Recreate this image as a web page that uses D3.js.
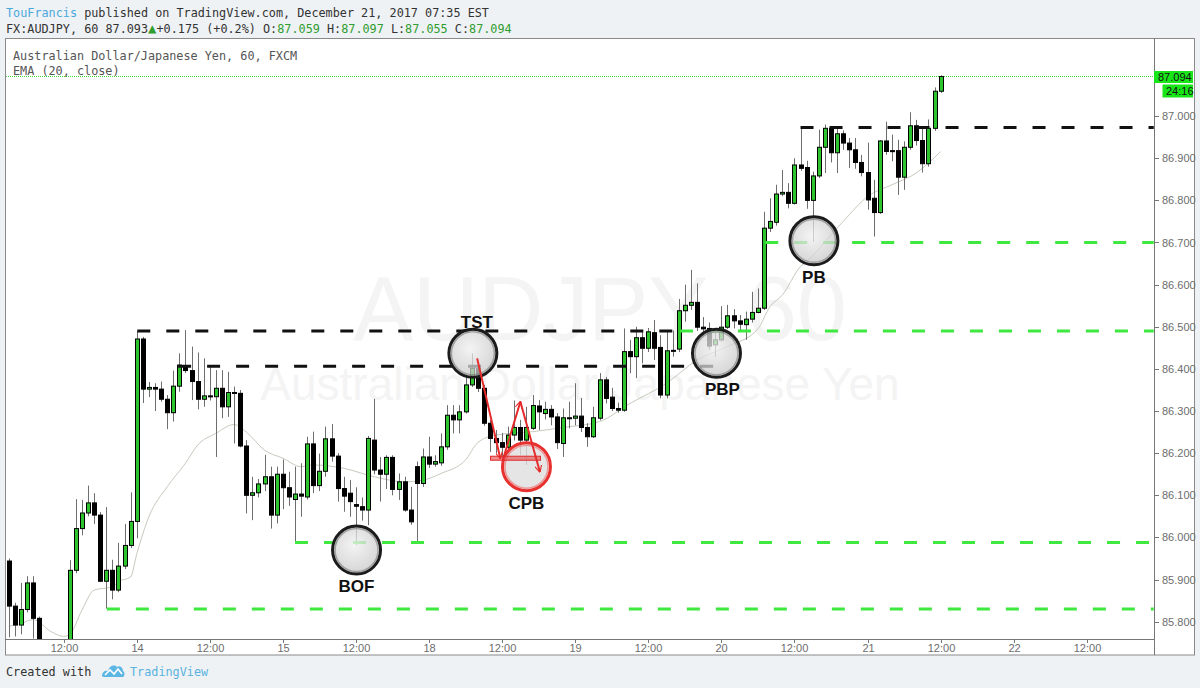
<!DOCTYPE html>
<html><head><meta charset="utf-8">
<script src="https://cdn.jsdelivr.net/npm/d3@7"></script>
<style>
html,body{margin:0;padding:0;background:#eff2f5;}
svg{display:block;}
</style></head><body>
<svg id="c" width="1200" height="688"></svg>
<script>
// ---------- DATA ----------
const opens=[85.944,85.837,85.792,85.829,85.892,85.808,85.740,85.705,85.725,85.695,
85.745,85.922,86.021,86.058,86.082,86.053,85.896,85.922,85.875,85.932,
85.981,86.038,86.471,86.352,86.356,86.352,86.328,86.296,86.359,86.405,
86.396,86.370,86.328,86.336,86.334,86.354,86.310,86.344,86.342,86.217,
86.100,86.106,86.127,86.144,86.053,86.150,86.118,86.090,86.103,86.096,
86.222,86.123,86.157,86.234,86.193,86.116,86.105,86.078,86.073,86.065,
86.231,86.160,86.150,86.190,86.114,86.132,86.065,86.168,86.128,86.191,
86.174,86.177,86.215,86.290,86.279,86.298,86.362,86.401,86.354,86.271,
86.235,86.225,86.214,86.243,86.261,86.231,86.259,86.312,86.294,86.304,
86.286,86.223,86.284,86.283,86.288,86.261,86.239,86.283,86.374,86.333,
86.306,86.302,86.441,86.429,86.474,86.449,86.486,86.451,86.338,86.443,
86.447,86.538,86.551,86.558,86.499,86.496,86.457,86.469,86.499,86.526,
86.514,86.505,86.518,86.534,86.544,86.734,86.748,86.815,86.819,86.793,
86.884,86.878,86.800,86.858,86.926,86.971,86.913,86.958,86.936,86.920,
86.890,86.866,86.805,86.771,86.941,86.918,86.918,86.855,86.926,86.977,
86.942,86.887,86.971,87.059];
const highs=[85.950,85.845,85.892,85.908,85.908,85.812,85.752,85.745,85.748,85.755,
85.946,86.091,86.089,86.123,86.105,86.060,86.072,85.947,85.987,86.032,
86.107,86.490,86.476,86.369,86.366,86.370,86.338,86.396,86.437,86.492,
86.453,86.439,86.425,86.409,86.397,86.397,86.393,86.358,86.350,86.231,
86.144,86.139,86.196,86.168,86.168,86.185,86.156,86.168,86.176,86.239,
86.251,86.199,86.263,86.269,86.200,86.144,86.136,86.119,86.095,86.241,
86.329,86.191,86.195,86.195,86.152,86.144,86.120,86.180,86.211,86.239,
86.195,86.247,86.314,86.314,86.314,86.386,86.437,86.410,86.362,86.279,
86.255,86.248,86.263,86.325,86.279,86.310,86.338,86.326,86.322,86.314,
86.295,86.306,86.322,86.366,86.331,86.271,86.310,86.390,86.381,86.355,
86.320,86.496,86.469,86.500,86.488,86.497,86.516,86.480,86.490,86.491,
86.566,86.600,86.635,86.603,86.523,86.510,86.490,86.549,86.552,86.542,
86.528,86.536,86.583,86.591,86.773,86.805,86.837,86.872,86.841,86.900,
86.973,86.894,86.868,86.968,86.980,86.975,86.971,86.966,86.948,86.948,
86.908,86.937,86.849,86.943,86.987,86.956,86.944,86.940,87.009,86.991,
86.975,86.992,87.068,87.097];
const lows=[85.763,85.765,85.770,85.822,85.760,85.720,85.690,85.680,85.670,85.675,
85.735,85.915,86.005,86.050,86.032,85.894,85.831,85.853,85.870,85.925,
85.975,85.998,86.319,86.333,86.300,86.322,86.257,86.275,86.346,86.390,
86.326,86.304,86.310,86.325,86.191,86.283,86.286,86.223,86.214,86.057,
86.041,86.095,86.110,86.021,86.033,86.067,86.075,85.987,86.049,86.090,
86.105,86.110,86.144,86.180,86.085,86.061,86.049,85.982,86.040,86.029,
86.150,86.085,86.115,86.100,86.089,86.061,86.030,85.989,86.120,86.165,
86.168,86.170,86.208,86.247,86.247,86.294,86.357,86.345,86.265,86.203,
86.200,86.185,86.195,86.230,86.195,86.172,86.255,86.255,86.280,86.266,
86.210,86.191,86.259,86.266,86.250,86.215,86.236,86.278,86.318,86.300,
86.296,86.298,86.390,86.378,86.413,86.440,86.421,86.330,86.330,86.429,
86.440,86.512,86.540,86.490,86.480,86.445,86.429,86.465,86.495,86.496,
86.490,86.469,86.510,86.532,86.540,86.725,86.740,86.810,86.781,86.790,
86.870,86.780,86.702,86.853,86.865,86.890,86.865,86.920,86.877,86.875,
86.857,86.778,86.714,86.768,86.908,86.893,86.813,86.825,86.920,86.930,
86.866,86.880,86.965,87.055];
const closes=[85.837,85.792,85.829,85.892,85.808,85.740,85.705,85.725,85.695,85.745,
85.922,86.021,86.058,86.082,86.053,85.896,85.922,85.875,85.932,85.981,
86.038,86.471,86.352,86.356,86.352,86.328,86.296,86.359,86.409,86.396,
86.370,86.328,86.336,86.334,86.354,86.310,86.344,86.342,86.217,86.100,
86.106,86.127,86.144,86.053,86.150,86.118,86.096,86.103,86.098,86.222,
86.123,86.157,86.234,86.193,86.116,86.098,86.085,86.074,86.065,86.235,
86.160,86.150,86.190,86.114,86.132,86.065,86.037,86.128,86.191,86.174,
86.180,86.215,86.290,86.279,86.298,86.362,86.401,86.354,86.271,86.235,
86.225,86.214,86.243,86.261,86.231,86.261,86.313,86.298,86.304,86.286,
86.225,86.284,86.282,86.288,86.261,86.239,86.284,86.374,86.330,86.306,
86.302,86.441,86.429,86.474,86.449,86.488,86.449,86.338,86.443,86.444,
86.538,86.551,86.558,86.499,86.495,86.454,86.469,86.499,86.526,86.514,
86.506,86.518,86.534,86.544,86.734,86.750,86.815,86.819,86.793,86.884,
86.876,86.800,86.858,86.926,86.971,86.913,86.958,86.936,86.920,86.890,
86.866,86.801,86.771,86.941,86.916,86.916,86.855,86.926,86.977,86.942,
86.887,86.971,87.059,87.094];

// EMA(20, close) read at selected bars
const emaIdx=[0,2,4,7,9,10,12,14,17,18,20,21,23,26,29,31,34,37,39,42,45,48,50,55,60,65,68,71,75,77,80,86,91,97,102,108,113,118,123,125,127,130,131,137,141,145,149,151,153];
const emaVal=[85.789,85.796,85.805,85.776,85.765,85.770,85.827,85.875,85.883,85.895,85.906,85.960,86.049,86.120,86.176,86.219,86.247,86.268,86.250,86.207,86.188,86.168,86.172,86.164,86.144,86.132,86.136,86.152,86.184,86.225,86.243,86.251,86.261,86.275,86.318,86.366,86.421,86.453,86.495,86.548,86.575,86.643,86.655,86.750,86.809,86.837,86.865,86.888,86.916];

const priceTicks=[85.8,85.9,86.0,86.1,86.2,86.3,86.4,86.5,86.6,86.7,86.8,86.9,87.0];
const timeTickIdx=[9,21,33,45,57,69,81,93,105,117,129,141,153,165,177];
const timeTickLabels=["12:00","14","12:00","15","12:00","18","12:00","19","12:00","20","12:00","21","12:00","22","12:00"];

// horizontal levels drawn on the chart
const levelPrice=[86.490,86.406,86.973,85.830,85.988,86.490,86.700];
const levelStart=[21.1,27.8,130,16.1,47,110.2,124.2];
const levelEnd=[109.7,116.4,188,188,188,188,188];
const levelKind=["black","black","black","green","green","green","green"];

// circled setups
const markerLabels=["TST","BOF","CPB","PBP","PB"];
const markerIdx=[76.2,57.1,85.0,116.2,132.2];
const markerPrice=[86.437,85.970,86.168,86.437,86.704];
const markerLabelPos=["above","below","below","below","below"];

// red arrows (index, price) pairs
const arrowFromIdx=[76.9,81.1,84.0];
const arrowFromPrice=[86.425,86.183,86.322];
const arrowToIdx=[80.7,84.0,87.2];
const arrowToPrice=[86.188,86.322,86.156];
const barFromIdx=79.1, barToIdx=87.3, barPrice=86.188;

const lastPrice=87.094;

// ---------- DRAW ----------
const svg=d3.select("#c");
const X0=6, X1=1154, Y0=38, Y1=639;
const x=d3.scaleLinear().domain([0,153]).range([8.8,940.6]);
const y=d3.scaleLinear().domain([85.8,87.0]).range([621.7,116.1]);
const mono="'DejaVu Sans Mono', monospace";
const sans="'Liberation Sans', Arial, sans-serif";

const defs=svg.append("defs");
defs.append("clipPath").attr("id","plot").append("rect")
  .attr("x",X0).attr("y",Y0).attr("width",X1-X0).attr("height",Y1-Y0);
const rg=defs.append("radialGradient").attr("id","cg").attr("cx","45%").attr("cy","40%").attr("r","60%");
rg.append("stop").attr("offset","0%").attr("stop-color","#f0f0f0");
rg.append("stop").attr("offset","100%").attr("stop-color","#c6c6c6");
const mk=defs.append("marker").attr("id","ah").attr("viewBox","0 0 10 10")
  .attr("refX",9).attr("refY",5).attr("markerWidth",7).attr("markerHeight",7)
  .attr("orient","auto-start-reverse").attr("markerUnits","userSpaceOnUse");
mk.append("path").attr("d","M0,0 L10,5 L0,10").attr("fill","none").attr("stroke","#e52b2b").attr("stroke-width",1.6);

// header
const h1=svg.append("text").attr("x",6).attr("y",17).attr("font-family",mono).attr("font-size",11.8).attr("fill","#333");
h1.append("tspan").attr("fill","#4aa8dc").text("TouFrancis");
h1.append("tspan").text(" published on TradingView.com, December 21, 2017 07:35 EST");
const G="#2f9d2f";
const h2=svg.append("text").attr("x",6).attr("y",33).attr("font-family",mono).attr("font-size",11.8).attr("fill","#333");
[["FX:AUDJPY, 60 87.093","#333",11.8],["▲",G,14],["+0.175 (+0.2%) O:","#333",11.8],["87.059",G,11.8],[" H:","#333",11.8],["87.097",G,11.8],[" L:","#333",11.8],["87.055",G,11.8],[" C:","#333",11.8],["87.094",G,11.8]]
  .forEach(([t,c,s])=>h2.append("tspan").attr("fill",c).attr("font-size",s).text(t));

// panel
svg.append("rect").attr("x",5.5).attr("y",38.5).attr("width",1189).attr("height",616.5)
  .attr("fill","#fff").attr("stroke","#8a8a8a");

const plot=svg.append("g").attr("clip-path","url(#plot)");

// watermark
plot.append("text").attr("x",600).attr("y",340).attr("text-anchor","middle")
  .attr("font-family",sans).attr("font-size",90).attr("fill","#f4f4f4").text("AUDJPY, 60");
plot.append("text").attr("x",580).attr("y",400).attr("text-anchor","middle")
  .attr("font-family",sans).attr("font-size",46).attr("fill","#f4f4f4").text("Australian Dollar/Japanese Yen");

// chart titles
svg.append("text").attr("x",13).attr("y",60).attr("font-family",mono).attr("font-size",11.8).attr("fill","#555").text("Australian Dollar/Japanese Yen, 60, FXCM");
svg.append("text").attr("x",13).attr("y",75).attr("font-family",mono).attr("font-size",11.8).attr("fill","#555").text("EMA (20, close)");

// last price dotted line
plot.append("line").attr("x1",X0).attr("x2",X1).attr("y1",y(lastPrice)).attr("y2",y(lastPrice))
  .attr("stroke","#3bd83b").attr("stroke-width",1).attr("stroke-dasharray","1,1");

// EMA
plot.append("path").datum(emaIdx.map((d,i)=>[d,emaVal[i]]))
  .attr("d",d3.line().x(d=>x(d[0])).y(d=>y(d[1])).curve(d3.curveMonotoneX))
  .attr("fill","none").attr("stroke","#c4cbbd").attr("stroke-width",1);

// candles
const idx=d3.range(opens.length);
const cg=plot.append("g");
cg.selectAll("line.w").data(idx).join("line").attr("class","w")
  .attr("x1",i=>Math.round(x(i))+0.5).attr("x2",i=>Math.round(x(i))+0.5)
  .attr("y1",i=>y(highs[i])).attr("y2",i=>y(lows[i]))
  .attr("stroke","#6e6e6e").attr("stroke-width",1);
cg.selectAll("rect.b").data(idx).join("rect").attr("class","b")
  .attr("x",i=>Math.round(x(i))-1.5).attr("width",4)
  .attr("y",i=>y(Math.max(opens[i],closes[i])))
  .attr("height",i=>Math.max(1,Math.abs(y(opens[i])-y(closes[i]))))
  .attr("fill",i=>closes[i]>=opens[i]?"#2ec42e":"#000")
  .attr("stroke","#000").attr("stroke-width",1);

// levels
const lg=plot.append("g");
levelPrice.forEach((p,i)=>{
  lg.append("line").attr("x1",x(levelStart[i])).attr("x2",x(levelEnd[i]))
    .attr("y1",y(p)).attr("y2",y(p))
    .attr("stroke",levelKind[i]==="black"?"#111":"#3ee83e")
    .attr("stroke-width",3).attr("stroke-dasharray","13,16");
});

// markers
const mg=plot.append("g");
markerLabels.forEach((lab,i)=>{
  const cx=x(markerIdx[i]), cy=y(markerPrice[i]);
  const red=lab==="CPB";
  mg.append("circle").attr("cx",cx).attr("cy",cy).attr("r",24)
    .attr("fill",red?"rgba(222,222,222,0.8)":"url(#cg)").attr("fill-opacity",red?1:0.75)
    .attr("stroke",red?"#e8312f":"#1c1c1c").attr("stroke-width",3);
  mg.append("circle").attr("cx",cx).attr("cy",cy).attr("r",21.5)
    .attr("fill","none").attr("stroke",red?"rgba(240,120,120,0.7)":"rgba(120,120,120,0.6)").attr("stroke-width",1.5);
  const above=markerLabelPos[i]==="above";
  const dx=lab==="TST"?4:(lab==="PBP"?6:0);
  mg.append("text").attr("x",cx+dx).attr("y",above?cy-25:cy+42)
    .attr("text-anchor","middle").attr("font-family",sans).attr("font-weight","bold")
    .attr("font-size",17).attr("fill","#111").text(lab);
});

// red bar + arrows
plot.append("rect").attr("x",x(barFromIdx)).attr("width",x(barToIdx)-x(barFromIdx))
  .attr("y",y(barPrice)-2).attr("height",4).attr("fill","rgba(232,80,80,0.65)")
  .attr("stroke","#e02a2a").attr("stroke-width",1);
arrowFromIdx.forEach((d,i)=>{
  plot.append("line").attr("x1",x(d)).attr("y1",y(arrowFromPrice[i]))
    .attr("x2",x(arrowToIdx[i])).attr("y2",y(arrowToPrice[i]))
    .attr("stroke","#e52b2b").attr("stroke-width",2).attr("marker-end","url(#ah)");
});

// axes frame lines
svg.append("line").attr("x1",X1+0.5).attr("x2",X1+0.5).attr("y1",Y0).attr("y2",655).attr("stroke","#777");
svg.append("line").attr("x1",5).attr("x2",X1+1).attr("y1",Y1+0.5).attr("y2",Y1+0.5).attr("stroke","#777");

// price axis
const pa=svg.append("g");
priceTicks.forEach(p=>{
  pa.append("line").attr("x1",X1).attr("x2",X1+5).attr("y1",Math.round(y(p))+0.5).attr("y2",Math.round(y(p))+0.5).attr("stroke","#777");
  pa.append("text").attr("x",X1+8).attr("y",y(p)+4).attr("font-family",sans).attr("font-size",11)
    .attr("fill","#6d6d6d").text(d3.format(".3f")(p));
});
// last price labels
pa.append("rect").attr("x",X1).attr("y",y(lastPrice)-5.5).attr("width",39).attr("height",12).attr("fill","#19e619");
pa.append("text").attr("x",X1+4).attr("y",y(lastPrice)+4.5).attr("font-family",sans).attr("font-size",11).attr("fill","#111").text(d3.format(".3f")(lastPrice));
pa.append("rect").attr("x",X1+8.5).attr("y",y(lastPrice)+8).attr("width",30.5).attr("height",13).attr("fill","#19e619");
pa.append("text").attr("x",X1+12).attr("y",y(lastPrice)+18.5).attr("font-family",sans).attr("font-size",11).attr("fill","#111").text("24:16");

// time axis
const ta=svg.append("g");
timeTickIdx.forEach((t,i)=>{
  const tx=Math.round(x(t))+0.5;
  ta.append("line").attr("x1",tx).attr("x2",tx).attr("y1",Y1).attr("y2",Y1+4).attr("stroke","#777");
  ta.append("text").attr("x",tx).attr("y",652).attr("text-anchor","middle").attr("font-family",sans)
    .attr("font-size",11).attr("fill","#6d6d6d").text(timeTickLabels[i]);
});

// footer
svg.append("text").attr("x",6).attr("y",676).attr("font-family",mono).attr("font-size",11.8).attr("fill","#333").text("Created with");
const logo=svg.append("g").attr("transform","translate(102,664)");
logo.append("path").attr("d","M0,12 C0,8 3,6 6,7 C7,2 12,0 15,3 C17,1 21,3 21,7 C23,8 23,12 21,13 L2,13 C0,13 0,12 0,12 Z").attr("fill","#5cb6e4");
logo.append("path").attr("d","M3,11 L8,6 L12,10 L16,5 L20,10").attr("fill","none").attr("stroke","#fff").attr("stroke-width",1.6);
svg.append("text").attr("x",130).attr("y",676).attr("font-family",mono).attr("font-size",11.8).attr("fill","#5ab2de").text("TradingView");
</script>
</body></html>
